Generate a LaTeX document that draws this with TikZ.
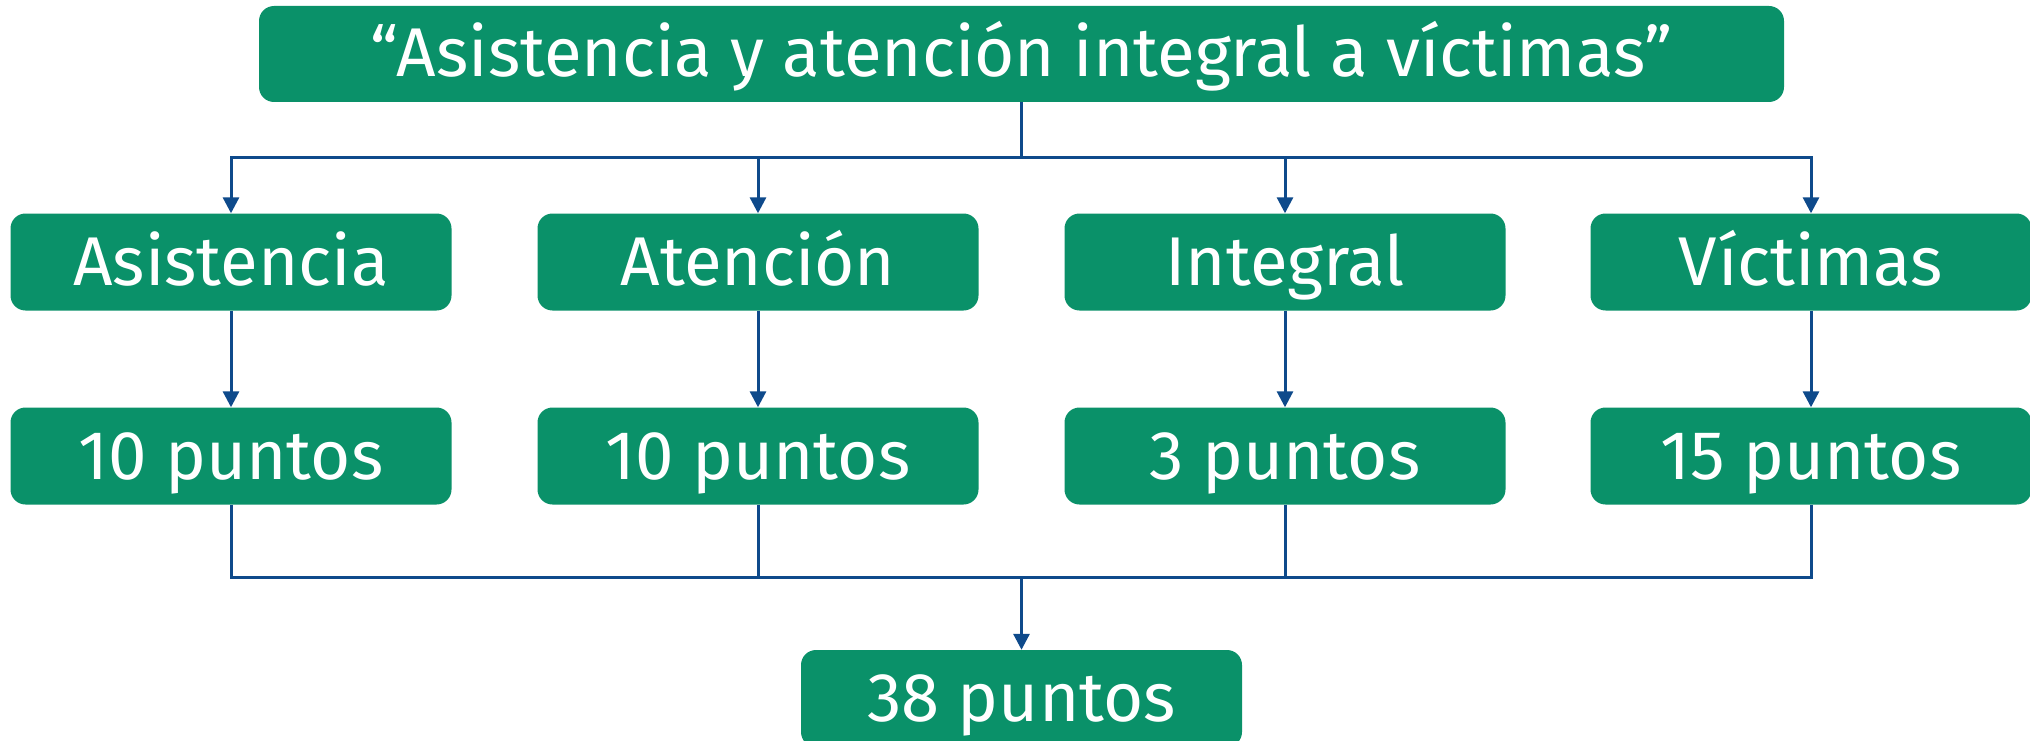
\documentclass[tikz,border=0pt]{standalone}
\usepackage{fontspec}
\setmainfont{Fira Sans}
\usepackage{tikz}
\usetikzlibrary{arrows.meta}
\definecolor{boxgreen}{RGB}{10,145,105}
\definecolor{lineblue}{RGB}{14,74,139}
\tikzset{
  box/.style={shape=rectangle, rounded corners=15pt, minimum width=441pt, minimum height=97pt, fill=boxgreen, draw=none, text=white, font=\fontsize{69}{80}\selectfont, inner sep=0pt, text height=46pt, text depth=0pt},
  conn/.style={draw=lineblue, line width=3pt},
  arr/.style={conn, -{Triangle[length=16pt,width=16pt]}}
}
\begin{document}
\begin{tikzpicture}
\useasboundingbox (0pt,0pt) rectangle (2030pt,-741pt);
\node[box, minimum width=1525pt, minimum height=96pt] (title) at (1021.5pt,-54pt) {“Asistencia y atención integral a víctimas”};
\coordinate (split) at (1021.5pt,-158pt);
\coordinate (join) at (1021.5pt,-577pt);
\foreach \n/\x/\word/\pts in {asis/231/Asistencia/10, aten/758/Atención/10, inte/1285/Integral/3, vict/1811/Víctimas/15}
  {\node[box] (\n) at (\x pt,-262pt) {\word} ;
   \node[box] (\n pts) at (\x pt,-456pt) {\pts\ puntos} ;
   \draw[conn] (title.south) -- (split) ;
   \draw[arr] (split) -| (\n.north) ;
   \draw[arr] (\n.south) -- (\n pts.north) ;
   \draw[conn] (\n pts.south) |- (join) ;}
\node[box] (total) at (1021.5pt,-698.5pt) {38 puntos};
\draw[arr] (join) -- (total.north) ;
\end{tikzpicture}
\end{document}
